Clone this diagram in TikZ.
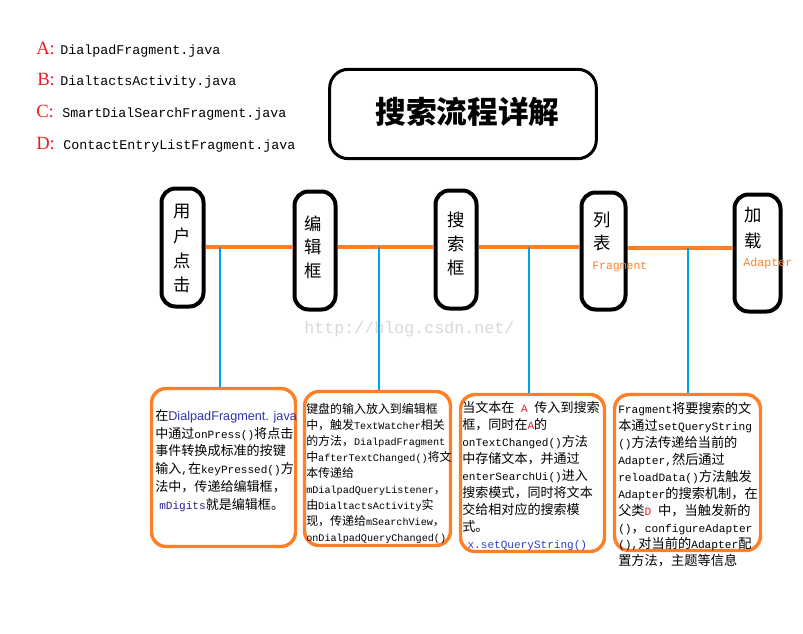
\documentclass[tikz,border=0pt]{standalone}
\usepackage{fontspec}
\setmainfont{Liberation Mono}
\newfontfamily\mn{Liberation Mono}
\newfontfamily\zh{Noto Sans CJK SC}[Scale=1.18]
\newfontfamily\zhb{Noto Sans CJK SC}
\newfontfamily\lsans{Liberation Sans}
\newfontfamily\lserif{Liberation Serif}
\newcommand\zz[1]{{\zh #1}}
\definecolor{porange}{RGB}{255,127,39}
\definecolor{pblue}{RGB}{0,162,232}
\definecolor{pred}{RGB}{237,28,36}
\definecolor{lnkblue}{RGB}{50,50,170}
\definecolor{digblue}{RGB}{40,30,140}
\definecolor{qblue}{RGB}{50,60,200}
\definecolor{wmgray}{RGB}{215,215,215}
\tikzset{
  topbox/.style={draw=black, line width=3pt, rounded corners=10.5pt, inner sep=0pt},
  titlebox/.style={draw=black, line width=2.25pt, rounded corners=14pt, inner sep=0pt},
  infobox/.style={draw=porange, line width=2.6pt, rounded corners=11pt, inner sep=0pt},
  oline/.style={draw=porange, line width=2.5pt},
  bline/.style={draw=pblue, line width=2.1pt},
  tlabel/.style={align=center, inner sep=0pt},
  info/.style={align=left, inner sep=0pt, anchor=north west},
  legkey/.style={anchor=base west, inner sep=0pt, text=pred, font=\fontsize{14}{16}\lserif},
  legtxt/.style={anchor=base west, inner sep=0pt, font=\fontsize{10}{12}\mn},
  sublbl/.style={anchor=base west, inner sep=0pt, text=porange},
}
\begin{document}
\begin{tikzpicture}[x=0.75pt,y=-0.75pt]
\useasboundingbox (0,0) rectangle (803,633);

% legend
\node[legkey] (ka) at (36,54) {A:};
\node[legtxt] (ta) at (60,54) {DialpadFragment.java};
\node[legkey] (kb) at (37,85) {B:};
\node[legtxt] (tb) at (60,85) {DialtactsActivity.java};
\node[legkey] (kc) at (36,117.5) {C:};
\node[legtxt] (tc) at (62,117.5) {SmartDialSearchFragment.java};
\node[legkey] (kd) at (36,149) {D:};
\node[legtxt] (td) at (63,149) {ContactEntryListFragment.java};

% title
\node[titlebox, minimum width=200pt, minimum height=67pt] (title) at (463,114) {};
\node[inner sep=0pt, font=\fontsize{23}{28}\zhb\bfseries] (titletxt) at (467.5,112) {搜索流程详解};

% watermark
\node[anchor=base west, inner sep=0pt, text=wmgray, font=\fontsize{12.5}{15}\mn] (wm) at (304,333) {http://blog.csdn.net/};

% top nodes
\node[topbox, minimum width=31.5pt, minimum height=88.5pt] (n1) at (182.5,247.5) {};
\node[topbox, minimum width=30.75pt, minimum height=88.5pt] (n2) at (315,250.5) {};
\node[topbox, minimum width=30.75pt, minimum height=88.5pt] (n3) at (456,249.5) {};
\node[topbox, minimum width=33pt, minimum height=87.75pt] (n4) at (603.5,251) {};
\node[topbox, minimum width=34.5pt, minimum height=87.75pt] (n5) at (757.5,253) {};

\node[tlabel, font=\fontsize{13}{18.5}\zhb] (t1) at (182,249) {用\\户\\点\\击};
\node[tlabel, font=\fontsize{13}{17.6}\zhb] (t2) at (313,247) {编\\辑\\框};
\node[tlabel, font=\fontsize{13}{18}\zhb] (t3) at (456,244) {搜\\索\\框};
\node[tlabel, font=\fontsize{13}{17.25}\zhb] (t4) at (602,231.5) {列\\表};
\node[tlabel, font=\fontsize{13}{19.5}\zhb] (t5) at (753,228.5) {加\\载};
\node[sublbl, font=\fontsize{8.6}{10}\mn] (f4) at (592,269.5) {Fragment};
\node[sublbl, font=\fontsize{8.75}{10}\mn] (a5) at (743,266.7) {Adapter};

% junction coordinates
\coordinate (j1) at (220,247);
\coordinate (j2) at (379,247);
\coordinate (j3) at (529,247);
\coordinate (j4) at (688,248);

% bottom boxes
\node[infobox, minimum width=108pt, minimum height=118.5pt] (b1) at (223.5,467.5) {};
\node[infobox, minimum width=109.5pt, minimum height=115.5pt] (b2) at (377.5,468.5) {};
\node[infobox, minimum width=108pt, minimum height=117.75pt] (b3) at (532.5,473) {};
\node[infobox, minimum width=109.5pt, minimum height=117pt] (b4) at (687.5,472.5) {};

% connectors
\draw[oline] (n1.east |- j1) -- (n2.west |- j1);
\draw[oline] (n2.east |- j2) -- (n3.west |- j2);
\draw[oline] (n3.east |- j3) -- (n4.west |- j3);
\draw[oline] (n4.east |- j4) -- (n5.west |- j4);
\draw[bline] (j1) -- (j1 |- b1.north);
\draw[bline] (j2) -- (j2 |- b2.north);
\draw[bline] (j3) -- (j3 |- b3.north);
\draw[bline] (j4) -- (j4 |- b4.north);

% box texts
\node[info, font=\fontsize{8.3}{13.35}\mn] (x1) at (155,409) {%
\zz{在}{\fontsize{9.5}{13.35}\lsans\color{lnkblue}DialpadFragment. java}\\
\zz{中通过}onPress()\zz{将点击}\\
\zz{事件转换成标准的按键}\\
\zz{输入},\zz{在}keyPressed()\zz{方}\\
\zz{法中，传递给编辑框，}\\
\hspace{3pt}{\color{digblue}mDigits}\zz{就是编辑框。}};

\node[info, font=\fontsize{7.6}{12}\mn] (x2) at (306,403.5) {%
\zz{键盘的输入放入到编辑框}\\
\zz{中，触发}TextWatcher\zz{相关}\\
\zz{的方法，}DialpadFragment\\
\zz{中}afterTextChanged()\zz{将文}\\
\zz{本传递给}\\
mDialpadQueryListener\zz{，}\\
\zz{由}DialtactsActivity\zz{实}\\
\zz{现，传递给}mSearchView\zz{，}\\
onDialpadQueryChanged()};

\node[info, font=\fontsize{8.3}{12.75}\mn] (x3) at (462,401) {%
\zz{当文本在} {\color{pred}A} \zz{传入到搜索}\\
\zz{框，同时在}{\color{pred}A}\zz{的}\\
onTextChanged()\zz{方法}\\
\zz{中存储文本，并通过}\\
enterSearchUi()\zz{进入}\\
\zz{搜索模式，同时将文本}\\
\zz{交给相对应的搜索模}\\
\zz{式。}\\
\hspace{4pt}{\color{qblue}x.setQueryString()}};

\node[info, font=\fontsize{8.4}{12.7}\mn] (x4) at (618,402) {%
Fragment\zz{将要搜索的文}\\
\zz{本通过}setQueryString\\
()\zz{方法传递给当前的}\\
Adapter,\zz{然后通过}\\
reloadData()\zz{方法触发}\\
Adapter\zz{的搜索机制，在}\\
\zz{父类}{\color{pred}D} \zz{中，当触发新的}\\
()\zz{，}configureAdapter\\
(),\zz{对当前的}Adapter\zz{配}\\
\zz{置方法，主题等信息}};
\end{tikzpicture}
\end{document}
